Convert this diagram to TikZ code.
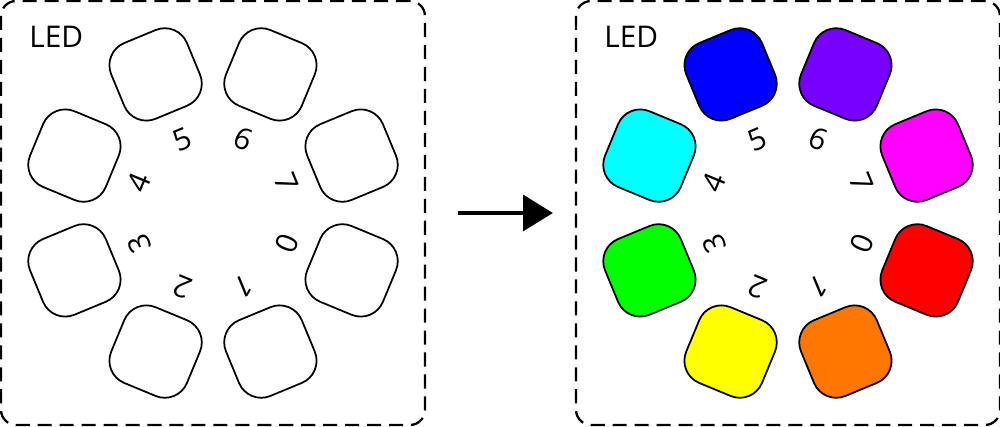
\documentclass[tikz,border=0pt]{standalone}
\usepackage{fontspec}
\setmainfont{Open Sans}
\usetikzlibrary{arrows.meta}
\definecolor{ledred}{RGB}{255,0,0}
\definecolor{ledorange}{RGB}{255,119,0}
\definecolor{ledyellow}{RGB}{255,255,0}
\definecolor{ledgreen}{RGB}{0,255,0}
\definecolor{ledcyan}{RGB}{0,255,255}
\definecolor{ledblue}{RGB}{0,0,255}
\definecolor{ledviolet}{RGB}{119,0,255}
\definecolor{ledmagenta}{RGB}{255,0,255}
\begin{document}
\begin{tikzpicture}[x=0.02cm, y=0.02cm,
    panel/.style={draw, line width=1.3pt, dash pattern=on 8pt off 4.5pt,
      rounded corners=0.3cm, minimum size=8.48cm, inner sep=0pt},
    led/.style={draw, line width=1pt, rounded corners=0.48cm,
      minimum size=1.64cm, inner sep=0pt},
    ledno/.style={font=\fontsize{17}{17}\selectfont, inner sep=0pt},
    title/.style={font=\fontsize{17}{17}\selectfont, anchor=base west, inner sep=0pt}]
  \useasboundingbox (0,0) rectangle (1000,426);

  \begin{scope}[shift={(213,213)}]
    \node[panel] (before) at (0,0) {};
    \node[title] (beforetitle) at (-184,165) {LED};
    \foreach \i in {0,...,7} {
      \pgfmathsetmacro\a{-22.5-45*\i}
      \node[led, rotate=\a] (off\i) at (\a:150) {};
      \node[ledno, rotate=\a-90] (offno\i) at (\a:80) {\i};
    }
  \end{scope}

  \begin{scope}[shift={(788,213)}]
    \node[panel] (after) at (0,0) {};
    \node[title] (aftertitle) at (-184,165) {LED};
    \foreach \i/\c in {0/ledred, 1/ledorange, 2/ledyellow, 3/ledgreen,
                       4/ledcyan, 5/ledblue, 6/ledviolet, 7/ledmagenta} {
      \pgfmathsetmacro\a{-22.5-45*\i}
      \node[led, fill=\c, rotate=\a] (on\i) at (\a:150) {};
      \node[ledno, rotate=\a-90] (onno\i) at (\a:80) {\i};
    }
  \end{scope}

  \draw[-{Triangle[length=17pt, width=20.5pt]}, line width=1.8pt,
    shorten <=0.64cm, shorten >=0.44cm] (before) -- (after);
\end{tikzpicture}
\end{document}
